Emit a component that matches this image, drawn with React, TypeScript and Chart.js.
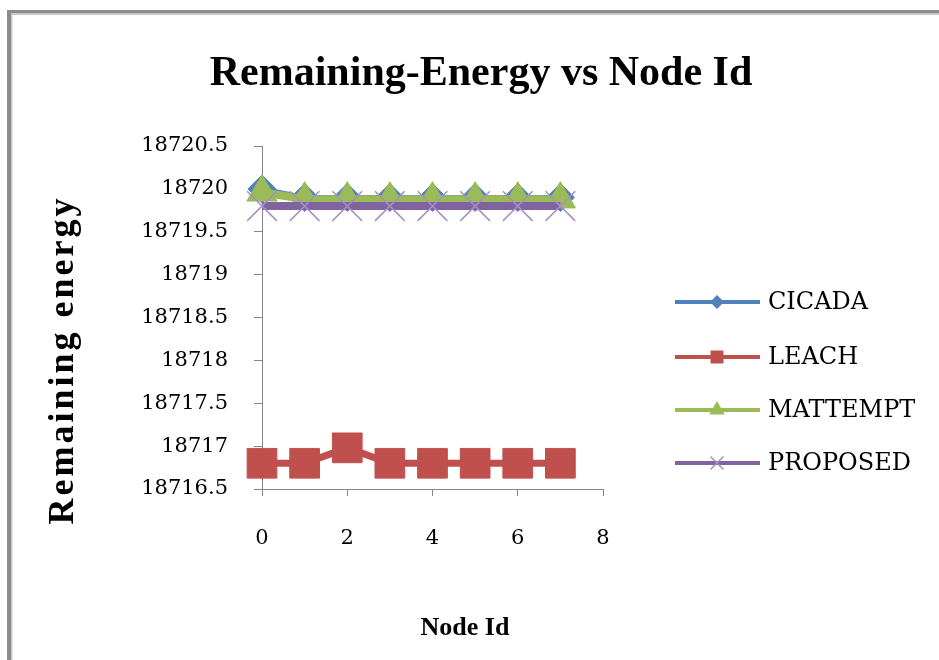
import { useEffect, useRef } from "react";
import { Chart, registerables } from "chart.js";

Chart.register(...registerables);

// Node identifiers on the horizontal axis
const nodeIds = [0, 1, 2, 3, 4, 5, 6, 7];

// Remaining energy per node for each protocol
const cicadaEnergy = [18720.0, 18719.9, 18719.9, 18719.9, 18719.9, 18719.9, 18719.9, 18719.9];
const leachEnergy = [18716.8, 18716.8, 18716.98, 18716.8, 18716.8, 18716.8, 18716.8, 18716.8];
const mattemptEnergy = [18719.96, 18719.88, 18719.88, 18719.88, 18719.88, 18719.88, 18719.88, 18719.88];
const proposedEnergy = [18719.8, 18719.8, 18719.8, 18719.8, 18719.8, 18719.8, 18719.8, 18719.8];

const seriesNames = ["CICADA", "LEACH", "MATTEMPT", "PROPOSED"];
const seriesColors = ["#4F81BD", "#C0504D", "#9BBB59", "#8064A2"];

// Axis ranges
const yMin = 18716.5;
const yMax = 18720.5;
const yStep = 0.5;
const xMin = 0;
const xMax = 8;
const xStep = 2;

const chartTitle = "Remaining-Energy vs Node Id";
const xAxisTitle = "Node Id";
const yAxisTitle = "Remaining energy";

const TICK_FONT = "'DejaVu Serif', serif";
const TITLE_FONT = "'Liberation Serif', 'Times New Roman', serif";
const AXIS_GRAY = "#868686";
const CROSS_COLOR = "#a58fc4";

const toPoints = (values: number[]) => nodeIds.map((x, i) => ({ x, y: values[i] }));

// Frame, titles and the legend panel on the right
const decorPlugin = {
  id: "decor",
  beforeDraw(chart: Chart) {
    const ctx = chart.ctx;
    ctx.save();
    ctx.fillStyle = "#ffffff";
    ctx.fillRect(0, 0, chart.width, chart.height);
    // outer frame (top and left edges visible)
    ctx.fillStyle = "#8c8c8c";
    ctx.fillRect(7, 10, chart.width - 7, 3.5);
    ctx.fillRect(7, 10, 4, chart.height - 10);
    ctx.fillStyle = "#c9c9c9";
    ctx.fillRect(11, 13.5, chart.width - 11, 1.5);
    ctx.fillRect(11, 13.5, 1.5, chart.height - 13.5);
    ctx.restore();
  },
  afterDraw(chart: Chart) {
    const ctx = chart.ctx;
    ctx.save();
    ctx.fillStyle = "#000000";

    // chart title
    ctx.font = `bold 42px ${TITLE_FONT}`;
    ctx.textAlign = "center";
    ctx.textBaseline = "alphabetic";
    ctx.fillText(chartTitle, 481, 85);

    // x axis title
    ctx.font = `bold 26px ${TITLE_FONT}`;
    ctx.fillText(xAxisTitle, 465, 635);

    // y axis title, rotated
    ctx.save();
    ctx.translate(73, 360);
    ctx.rotate(-Math.PI / 2);
    ctx.font = `bold 36px ${TITLE_FONT}`;
    (ctx as any).letterSpacing = "3px";
    ctx.fillText(yAxisTitle, 0, 0);
    ctx.restore();

    // legend
    const rowY = [302, 357, 410, 463];
    const lineX0 = 675;
    const lineX1 = 760;
    const mx = 717;
    seriesNames.forEach((name, i) => {
      const y = rowY[i];
      const c = seriesColors[i];
      ctx.strokeStyle = c;
      ctx.lineWidth = 4;
      ctx.lineCap = "butt";
      ctx.beginPath();
      ctx.moveTo(lineX0, y);
      ctx.lineTo(lineX1, y);
      ctx.stroke();
      ctx.fillStyle = c;
      ctx.beginPath();
      if (i === 0) {
        const r = 7;
        ctx.moveTo(mx, y - r);
        ctx.lineTo(mx + r, y);
        ctx.lineTo(mx, y + r);
        ctx.lineTo(mx - r, y);
        ctx.closePath();
        ctx.fill();
      } else if (i === 1) {
        ctx.rect(mx - 6.5, y - 6.5, 13, 13);
        ctx.fill();
      } else if (i === 2) {
        const r = 9;
        ctx.moveTo(mx, y - r);
        ctx.lineTo(mx + r * 0.866, y + r / 2);
        ctx.lineTo(mx - r * 0.866, y + r / 2);
        ctx.closePath();
        ctx.fill();
      } else {
        const r = 6.5;
        ctx.strokeStyle = CROSS_COLOR;
        ctx.lineWidth = 1.5;
        ctx.moveTo(mx - r, y - r);
        ctx.lineTo(mx + r, y + r);
        ctx.moveTo(mx + r, y - r);
        ctx.lineTo(mx - r, y + r);
        ctx.stroke();
      }
      ctx.fillStyle = "#000000";
      ctx.font = `24px ${TICK_FONT}`;
      ctx.textAlign = "left";
      ctx.textBaseline = "middle";
      ctx.fillText(name, 768, y + 1);
    });
    ctx.restore();
  },
};

export default function App() {
  const canvasRef = useRef<HTMLCanvasElement | null>(null);

  useEffect(() => {
    const canvas = canvasRef.current;
    if (!canvas) return;

    const lineSeries = [cicadaEnergy, leachEnergy, mattemptEnergy, proposedEnergy];
    const pointStyles = ["rectRot", "rect", "triangle", "crossRot"];
    const pointRadii = [14, 21, 17.5, 21];
    const lineWidths = [5, 7, 8, 8];

    const chart = new Chart(canvas, {
      type: "line",
      data: {
        datasets: lineSeries.map((values, i) => ({
          label: seriesNames[i],
          data: toPoints(values),
          borderColor: seriesColors[i],
          backgroundColor: seriesColors[i],
          borderWidth: lineWidths[i],
          tension: 0,
          pointStyle: pointStyles[i] as any,
          pointRadius: pointRadii[i],
          pointBackgroundColor: seriesColors[i],
          pointBorderColor: i === 3 ? CROSS_COLOR : seriesColors[i],
          pointBorderWidth: i === 3 ? 1.5 : 1,
          fill: false,
          order: 3 - i,
          clip: false as any,
        })),
      },
      options: {
        responsive: false,
        animation: false,
        events: [],
        layout: { padding: { left: 0, right: 336, top: 146, bottom: 0 } },
        plugins: {
          legend: { display: false },
          title: { display: false },
          tooltip: { enabled: false },
        },
        scales: {
          x: {
            type: "linear",
            min: xMin,
            max: xMax,
            afterFit(scale: any) {
              scale.height = 171;
            },
            ticks: {
              stepSize: xStep,
              padding: 30,
              color: "#000000",
              font: { family: TICK_FONT, size: 21 },
              callback: (v: any) => String(v),
            },
            grid: {
              display: true,
              drawOnChartArea: false,
              drawTicks: true,
              tickLength: 7,
              color: AXIS_GRAY,
            },
            border: { display: true, color: AXIS_GRAY, width: 1 },
          },
          y: {
            type: "linear",
            min: yMin,
            max: yMax,
            afterFit(scale: any) {
              scale.width = 262;
            },
            ticks: {
              stepSize: yStep,
              padding: 26,
              color: "#000000",
              font: { family: TICK_FONT, size: 21 },
              callback: (v: any) => String(v),
            },
            grid: {
              display: true,
              drawOnChartArea: false,
              drawTicks: true,
              tickLength: 8,
              color: AXIS_GRAY,
            },
            border: { display: true, color: AXIS_GRAY, width: 1 },
          },
        },
      },
      plugins: [decorPlugin],
    });

    return () => chart.destroy();
  }, []);

  return (
    <div style={{ position: "fixed", left: 0, top: 0, width: 939, height: 660, background: "#fff" }}>
      <canvas ref={canvasRef} width={939} height={660} style={{ display: "block" }} />
    </div>
  );
}
